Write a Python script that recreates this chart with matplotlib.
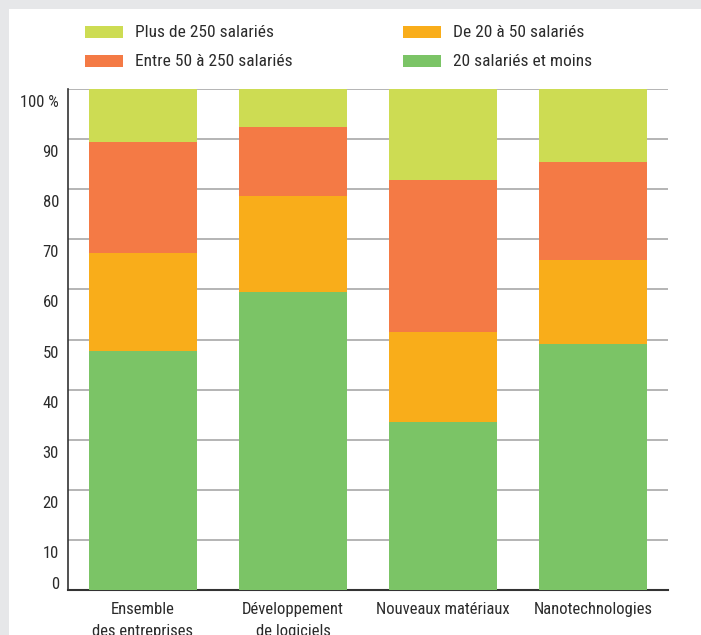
import matplotlib
matplotlib.use("Agg")
import matplotlib.pyplot as plt
import matplotlib.font_manager as fm
from matplotlib.patches import Rectangle
from matplotlib.transforms import ScaledTranslation
import numpy as np

categories = ["Ensemble\ndes entreprises", "Développement\nde logiciels", "Nouveaux matériaux", "Nanotechnologies"]
series_names = ["20 salariés et moins", "De 20 à 50 salariés", "Entre 50 à 250 salariés", "Plus de 250 salariés"]
small = [47.7, 59.5, 33.5, 49.2]
s20_50 = [19.5, 19.2, 18.0, 16.7]
s50_250 = [22.3, 13.8, 30.4, 19.6]
s250 = [10.5, 7.5, 18.1, 14.5]
yticks = [0, 10, 20, 30, 40, 50, 60, 70, 80, 90, 100]
ytick_labels = ["0", "10", "20", "30", "40", "50", "60", "70", "80", "90", "100 %"]

colors = ["#7bc466", "#f9ad1a", "#f47a45", "#cddc53"]
text_color = "#2b2b2b"

# prefer a narrow sans if one is installed, else Liberation Sans at a width-matched size
installed = {f.name for f in fm.fontManager.ttflist}
narrow = [n for n in ["Liberation Sans Narrow", "Arial Narrow", "Roboto Condensed"] if n in installed]
if narrow:
    plt.rcParams['font.family'] = [narrow[0], 'Liberation Sans', 'DejaVu Sans']
    fs_axis, fs_leg = 12.0, 12.5
else:
    plt.rcParams['font.family'] = ['Liberation Sans', 'DejaVu Sans']
    fs_axis, fs_leg = 10.8, 11.0

W, H = 701, 635
fig = plt.figure(figsize=(W / 100, H / 100), dpi=100)
fig.patch.set_facecolor("#e6e7e9")
fig.patches.append(Rectangle((9 / W, 0), 1, 1 - 9 / H, transform=fig.transFigure,
                             facecolor="white", edgecolor="none", zorder=-10))

ax = fig.add_axes([68 / W, 1 - 590 / H, 600 / W, 501 / H])
ax.set_zorder(1)
ax.set_facecolor("none")
x = np.arange(len(categories))
series = [small, s20_50, s50_250, s250]
bottom = np.zeros(len(categories))
for vals, col, name in zip(series, colors, series_names):
    ax.bar(x, vals, bottom=bottom, width=0.715, color=col, label=name, zorder=3, linewidth=0)
    bottom += np.array(vals)

ax.set_xlim(-0.5, 3.5)
ax.set_ylim(0, 100)
ax.set_yticks(yticks)
ax.set_yticklabels(ytick_labels, fontsize=fs_axis, color=text_color)
for yv in yticks[1:]:
    ax.axhline(yv, color="#a8a8a8", linewidth=1.2, zorder=1)
ax.tick_params(axis="y", length=0, pad=6.5)
ax.tick_params(axis="x", length=0, pad=8.5)
ax.set_xticks(x)
ax.set_xticklabels(categories, fontsize=fs_axis, color=text_color, linespacing=1.6)
# labels sit inside the band below each gridline (the 0 just above the baseline)
for yv, lab in zip(yticks, ax.get_yticklabels()):
    dy_px = 7 if yv == 0 else -12
    lab.set_transform(lab.get_transform() + ScaledTranslation(0, dy_px / 100, fig.dpi_scale_trans))
for s in ["top", "right"]:
    ax.spines[s].set_visible(False)
ax.spines["left"].set_color("#333333")
ax.spines["bottom"].set_color("#333333")
ax.spines["left"].set_linewidth(1.2)
ax.spines["bottom"].set_linewidth(1.5)

# Legend (manual layout in figure pixels)
legend_items = [
    (85, 32, colors[3], series_names[3]),
    (85, 61, colors[2], series_names[2]),
    (403, 32, colors[1], series_names[1]),
    (403, 61, colors[0], series_names[0]),
]
for lx, ly, col, name in legend_items:
    fig.patches.append(Rectangle((lx / W, 1 - (ly + 6) / H), 38 / W, 12 / H,
                                 transform=fig.transFigure, facecolor=col, edgecolor="none", zorder=2))
    fig.text((lx + 50) / W, 1 - (ly + 0.5) / H, name, fontsize=fs_leg, color=text_color, va="center", ha="left")

fig.savefig("out.png", dpi=100, facecolor=fig.get_facecolor())
